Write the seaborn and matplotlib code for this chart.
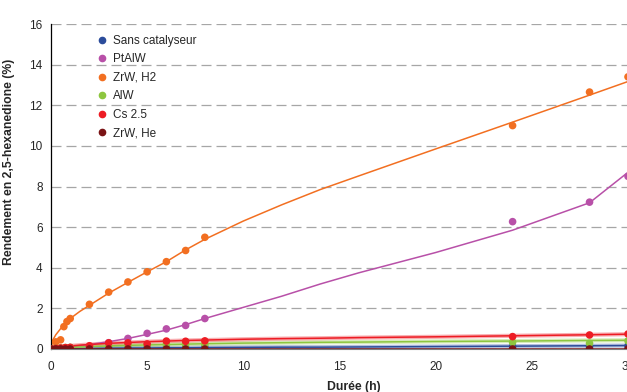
# Yield of 2,5-hexanedione vs reaction time for several catalysts

import pandas as pd
import matplotlib
matplotlib.use('Agg')
import matplotlib.pyplot as plt
from matplotlib.lines import Line2D
import seaborn as sns

# measured points
t_pts = [0, 0.25, 0.5, 0.75, 1, 2, 3, 4, 5, 6, 7, 8, 24, 28, 30]
t_zrw_h2 = [0, 0.25, 0.5, 0.67, 0.83, 1, 2, 3, 4, 5, 6, 7, 8, 24, 28, 30]

sans_cat = [0, 0, 0, 0, 0.01, 0.02, 0.03, 0.04, 0.05, 0.06, 0.07, 0.08, 0.12, 0.12, 0.15]
ptalw = [0, 0, 0, 0.02, 0.05, 0.1, 0.31, 0.52, 0.77, 0.99, 1.16, 1.5, 6.27, 7.23, 8.5]
zrw_h2 = [0, 0.35, 0.45, 1.1, 1.35, 1.5, 2.2, 2.8, 3.3, 3.8, 4.3, 4.85, 5.5, 11.0, 12.65, 13.4]
alw = [0, 0.03, 0.05, 0.07, 0.08, 0.12, 0.15, 0.18, 0.2, 0.22, 0.22, 0.23, 0.33, 0.28, 0.4]
cs25 = [0, 0.03, 0.05, 0.07, 0.08, 0.16, 0.3, 0.3, 0.25, 0.39, 0.38, 0.4, 0.61, 0.69, 0.74]
zrw_he = [0, 0, 0, 0, 0, 0, 0, 0, 0, 0, 0, 0, 0, 0, 0]

# trend curves
t_fit = [0, 0.1, 0.25, 0.5, 1, 1.5, 2, 3, 4, 5, 6, 7, 8, 10, 12, 14, 16, 20, 24, 28, 30]
fit_sans_cat = [0, 0, 0.01, 0.01, 0.02, 0.02, 0.03, 0.04, 0.05, 0.05, 0.06, 0.06, 0.07,
                0.08, 0.09, 0.09, 0.1, 0.12, 0.14, 0.16, 0.17]
fit_ptalw = [0, 0.01, 0.02, 0.05, 0.1, 0.16, 0.22, 0.36, 0.52, 0.72, 0.93, 1.2, 1.5,
             2.05, 2.6, 3.2, 3.75, 4.75, 5.85, 7.2, 8.7]
fit_zrw_h2 = [0, 0.45, 0.7, 1.0, 1.5, 1.85, 2.15, 2.75, 3.28, 3.8, 4.3, 4.88, 5.4,
              6.3, 7.1, 7.85, 8.52, 9.85, 11.17, 12.5, 13.17]
fit_alw = [0, 0.01, 0.03, 0.05, 0.08, 0.1, 0.12, 0.15, 0.18, 0.2, 0.22, 0.24, 0.26,
           0.29, 0.31, 0.33, 0.34, 0.37, 0.39, 0.42, 0.43]
fit_cs25 = [0, 0.03, 0.06, 0.1, 0.15, 0.19, 0.22, 0.28, 0.32, 0.36, 0.39, 0.42, 0.44,
            0.48, 0.51, 0.53, 0.56, 0.6, 0.65, 0.7, 0.73]
fit_zrw_he = [0.01] * 21

names = ['Sans catalyseur', 'PtAlW', 'ZrW, H2', 'AlW', 'Cs 2.5', 'ZrW, He']
colors = ['#2B4C9B', '#B850A8', '#F26F21', '#8DC63F', '#ED1C24', '#7A1315']
palette = dict(zip(names, colors))

pts = pd.concat([
    pd.DataFrame({'t': t_pts, 'y': sans_cat, 'serie': names[0]}),
    pd.DataFrame({'t': t_pts, 'y': ptalw, 'serie': names[1]}),
    pd.DataFrame({'t': t_zrw_h2, 'y': zrw_h2, 'serie': names[2]}),
    pd.DataFrame({'t': t_pts, 'y': alw, 'serie': names[3]}),
    pd.DataFrame({'t': t_pts, 'y': cs25, 'serie': names[4]}),
    pd.DataFrame({'t': t_pts, 'y': zrw_he, 'serie': names[5]}),
], ignore_index=True)

fits = pd.concat([
    pd.DataFrame({'t': t_fit, 'y': f, 'serie': n})
    for n, f in zip(names, [fit_sans_cat, fit_ptalw, fit_zrw_h2, fit_alw, fit_cs25, fit_zrw_he])
], ignore_index=True)

sns.set_style('white')
plt.rcParams['font.family'] = ['Liberation Sans', 'DejaVu Sans']

fig = plt.figure(figsize=(6.27, 3.92), dpi=100)
ax = fig.add_axes([0.0813, 0.1097, 0.9203, 0.829])

# faint wide band under the low curves, then thin curve, then points
low = fits[fits['serie'].isin(['Sans catalyseur', 'AlW', 'Cs 2.5'])]
sns.lineplot(data=low, x='t', y='y', hue='serie', palette=palette, ax=ax,
             legend=False, sort=False, estimator=None, linewidth=3, alpha=0.35)
sns.lineplot(data=fits, x='t', y='y', hue='serie', palette=palette, ax=ax,
             legend=False, sort=False, estimator=None, linewidth=1.1)
sns.scatterplot(data=pts, x='t', y='y', hue='serie', palette=palette, ax=ax,
                legend=False, s=30, linewidth=0, zorder=3)

ax.set_xlim(0, 30)
ax.set_ylim(0, 16)
ax.set_xticks(range(0, 31, 5))
ax.set_yticks(range(0, 17, 2))
ax.yaxis.grid(True, color='#A6A6A6', linestyle=(0, (8, 4)), linewidth=0.9)
ax.set_axisbelow(True)

for s in ['top', 'right']:
    ax.spines[s].set_visible(False)
ax.spines['left'].set_color('black')
ax.spines['left'].set_linewidth(0.9)
ax.spines['bottom'].set_color('#808080')
ax.tick_params(axis='y', direction='out', length=4, width=0.8, color='black',
               labelsize=8.5, labelcolor='#262626', pad=2)
ax.tick_params(axis='x', direction='out', length=4, width=0.8, color='#808080',
               labelsize=8.5, labelcolor='#262626', pad=5)

ax.set_xlabel('Durée (h)', fontsize=8.8, fontweight='bold')
ax.xaxis.set_label_coords(0.525, -0.1)
ax.set_ylabel('Rendement en 2,5-hexanedione (%)', fontsize=8.8, fontweight='bold')
ax.yaxis.set_label_coords(-0.062, 0.575)

handles = [Line2D([], [], marker='o', linestyle='', color=c, markersize=4.5) for c in colors]
ax.legend(handles, names, loc='upper left', bbox_to_anchor=(0.07, 0.985), frameon=False,
          fontsize=8.5, handlelength=0.8, handletextpad=0.5, labelspacing=0.55,
          borderpad=0)

fig.savefig('out.png', dpi=100)
